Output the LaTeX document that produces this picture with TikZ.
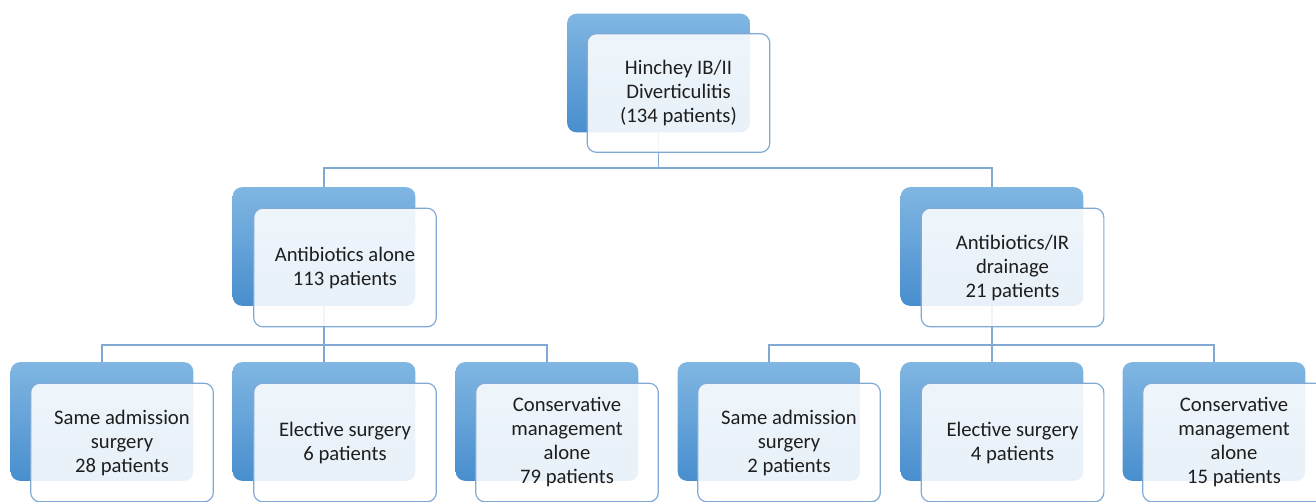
\documentclass[tikz,border=0pt]{standalone}
\usepackage{fontspec}
\setmainfont{Carlito}
\usepackage{tikz}
\usetikzlibrary{positioning,calc}
\definecolor{LinkBlue}{RGB}{128, 170, 212}
\definecolor{BackTop}{RGB}{128, 182, 226}
\definecolor{BackBottom}{RGB}{72, 142, 206}
\definecolor{TextGray}{RGB}{30, 30, 30}

\tikzset{
  backbox/.style={rounded corners=7pt, minimum width=137pt, minimum height=89pt,
    top color=BackTop, bottom color=BackBottom, draw=none, inner sep=0pt},
  frontbox/.style={rounded corners=7pt, minimum width=137pt, minimum height=89pt,
    draw=LinkBlue, line width=0.9pt, fill=white, fill opacity=0.88, text opacity=1,
    text=TextGray, align=center, inner sep=0pt,
    font=\fontsize{15.5}{18}\selectfont},
  link/.style={draw=LinkBlue, line width=1.1pt}
}

\begin{document}
\begin{tikzpicture}[x=0.75pt, y=-0.75pt]
  \useasboundingbox (0,0) rectangle (1316,501);

  % Back boxes
  \node[backbox] (topb) at (658.5, 73) {};
  \node[backbox] (abxb) at (324, 246.5) {};
  \node[backbox] (irdb) at (992, 246.5) {};
  \node[backbox] (asameb) at (102, 421.5) {};
  \node[backbox] (aelecb) at (324, 421.5) {};
  \node[backbox] (aconsb) at (547, 421.5) {};
  \node[backbox] (isameb) at (769, 421.5) {};
  \node[backbox] (ielecb) at (992, 421.5) {};
  \node[backbox] (iconsb) at (1214, 421.5) {};

  % Junctions
  \coordinate (jtop) at (658.5, 168);
  \coordinate (jabx) at (324, 345);
  \coordinate (jird) at (992, 345);

  % Connectors
  \draw[link] (topb.south) -- (jtop) -| (abxb.north);
  \draw[link] (jtop) -| (irdb.north);
  \draw[link] (abxb.south) -- (jabx) -| (asameb.north);
  \draw[link] (jabx) -- (aelecb.north);
  \draw[link] (jabx) -| (aconsb.north);
  \draw[link] (irdb.south) -- (jird) -| (isameb.north);
  \draw[link] (jird) -- (ielecb.north);
  \draw[link] (jird) -| (iconsb.north);

  % Front boxes
  \node[frontbox] (topf) at (678.5, 93) {Hinchey IB/II\\Diverticulitis\\(134 patients)};
  \node[frontbox] (abxf) at (345, 267.5) {Antibiotics alone\\113 patients};
  \node[frontbox] (irdf) at (1012.5, 267.5) {Antibiotics/IR\\drainage\\21 patients};
  \node[frontbox] (asamef) at (122, 442.5) {Same admission\\surgery\\28 patients};
  \node[frontbox] (aelecf) at (345, 442.5) {Elective surgery\\6 patients};
  \node[frontbox] (aconsf) at (567, 442.5) {Conservative\\management\\alone\\79 patients};
  \node[frontbox] (isamef) at (789, 442.5) {Same admission\\surgery\\2 patients};
  \node[frontbox] (ielecf) at (1012.5, 442.5) {Elective surgery\\4 patients};
  \node[frontbox] (iconsf) at (1234, 442.5) {Conservative\\management\\alone\\15 patients};
\end{tikzpicture}
\end{document}
